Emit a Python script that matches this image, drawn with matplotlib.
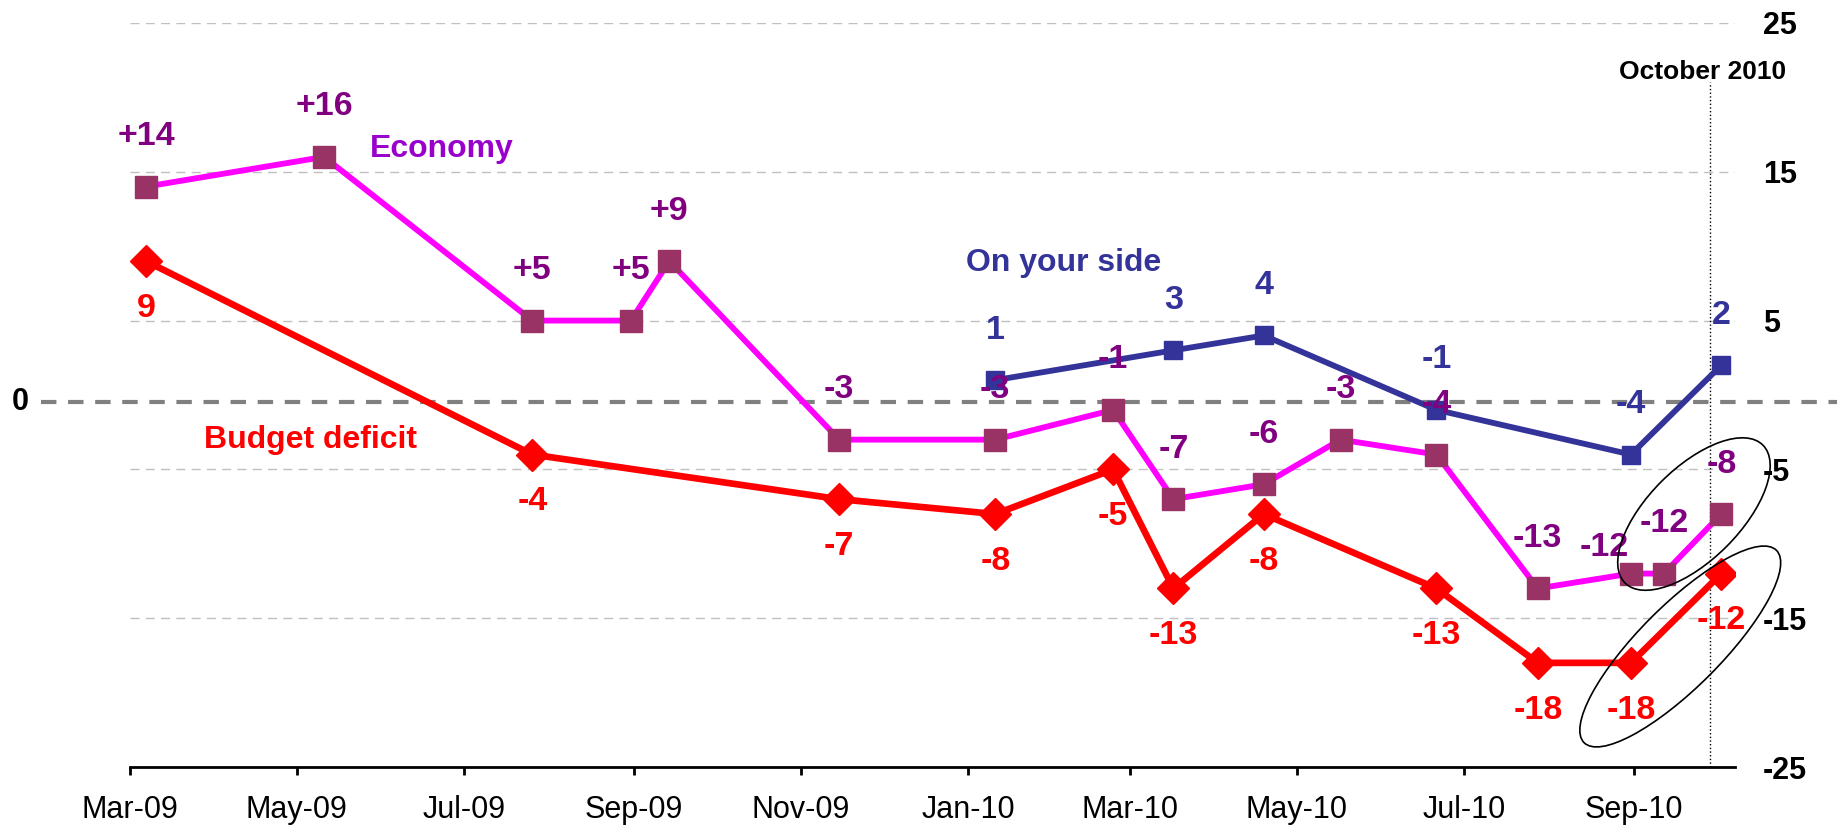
import matplotlib

matplotlib.use("Agg")
import matplotlib.dates as mdates
import matplotlib.pyplot as plt
import pandas as pd
from matplotlib import font_manager
from matplotlib.patches import Ellipse
from matplotlib.transforms import IdentityTransform, blended_transform_factory


# ---- data ----
economy_dates = [
    "2009-03-07", "2009-05-11", "2009-07-26", "2009-08-31", "2009-09-14",
    "2009-11-15", "2010-01-11", "2010-02-23", "2010-03-17", "2010-04-19",
    "2010-05-17", "2010-06-21", "2010-07-28", "2010-08-31", "2010-09-12",
    "2010-10-03",
]
economy_values = [14, 16, 5, 5, 9, -3, -3, -1, -7, -6, -3, -4, -13, -12, -12, -8]
economy_labels = ["+14", "+16", "+5", "+5", "+9", "-3", "-3", "-1", "-7", "-6",
                  "-3", "-4", "-13", "-12", "-12", "-8"]

budget_dates = [
    "2009-03-07", "2009-07-26", "2009-11-15", "2010-01-11", "2010-02-23",
    "2010-03-17", "2010-04-19", "2010-06-21", "2010-07-28", "2010-08-31",
    "2010-10-03",
]
budget_values = [9, -4, -7, -8, -5, -13, -8, -13, -18, -18, -12]
budget_labels = ["9", "-4", "-7", "-8", "-5", "-13", "-8", "-13", "-18", "-18", "-12"]

side_dates = ["2010-01-11", "2010-03-17", "2010-04-19", "2010-06-21",
              "2010-08-31", "2010-10-03"]
side_values = [1, 3, 4, -1, -4, 2]
side_labels = ["1", "3", "4", "-1", "-4", "2"]

y_ticks = [25, 15, 5, -5, -15, -25]
x_start, x_end = "2009-03-01", "2010-10-08"
marker_date = "2010-09-29"


def pick_font(candidates):
    available = {f.name for f in font_manager.fontManager.ttflist}
    for name in candidates:
        if name in available:
            return name
    return "DejaVu Sans"


FONT = pick_font(["Liberation Sans", "Arial", "DejaVu Sans"])
plt.rcParams["font.family"] = FONT
plt.rcParams["axes.unicode_minus"] = False

RED = "#FF0000"
MAGENTA = "#FF00FF"
PLUM = "#993366"
PURPLE = "#800080"
NAVY = "#333399"


def to_dates(values):
    return pd.to_datetime(values)


def label_points(ax, dates, values, labels, color, dy, nudges=None):
    nudges = nudges or {}
    for i, (d, v, text) in enumerate(zip(dates, values, labels)):
        offset = nudges.get(i, (0, dy))
        ax.annotate(text, (d, v), xytext=offset, textcoords="offset points",
                    ha="center", va="center", color=color, fontsize=24.5,
                    fontweight="bold", zorder=6)


def main():
    fig = plt.figure(figsize=(18.37, 8.26), dpi=100)
    ax = fig.add_axes([0.0705, 0.0714, 0.874, 0.9008])

    econ_x = to_dates(economy_dates)
    budget_x = to_dates(budget_dates)
    side_x = to_dates(side_dates)

    ax.plot(budget_x, budget_values, color=RED, lw=4.8, marker="D", ms=16,
            mfc=RED, mec=RED, zorder=4)
    ax.plot(econ_x, economy_values, color=MAGENTA, lw=4.2, marker="s", ms=16.5,
            mfc=PLUM, mec=PLUM, zorder=4)
    ax.plot(side_x, side_values, color=NAVY, lw=4.2, marker="s", ms=13,
            mfc=NAVY, mec=NAVY, zorder=5)

    label_points(ax, econ_x, economy_values, economy_labels, PURPLE, 36,
                 nudges={13: (-19, 19)})
    label_points(ax, budget_x, budget_values, budget_labels, RED, -34)
    label_points(ax, side_x, side_values, side_labels, NAVY, 36)

    ax.set_xlim(pd.Timestamp(x_start), pd.Timestamp(x_end))
    ax.set_ylim(-25, 25)

    # axes styling
    for side in ("left", "top", "right"):
        ax.spines[side].set_visible(False)
    ax.spines["bottom"].set_linewidth(2)
    ax.xaxis.set_major_locator(mdates.MonthLocator(bymonth=[1, 3, 5, 7, 9, 11]))
    ax.xaxis.set_major_formatter(mdates.DateFormatter("%b-%y"))
    ax.tick_params(axis="x", direction="out", length=6, width=2, pad=14,
                   labelsize=22)
    ax.yaxis.tick_right()
    ax.set_yticks(y_ticks)
    ax.tick_params(axis="y", length=0, pad=20, labelsize=22)
    for label in ax.get_yticklabels():
        label.set_fontweight("bold")
    ax.grid(axis="y", color="#C0C0C0", linestyle=(0, (6.5, 4.5)), linewidth=1)
    ax.set_axisbelow(True)

    # reference line marked "0" (drawn slightly below the data zero in the original)
    ax.axhline(-0.5, xmin=-0.055, xmax=1.07, color="#808080", lw=3,
               linestyle=(0, (3.7, 2.8)), clip_on=False, zorder=2)
    fig_x = blended_transform_factory(fig.transFigure, ax.transData)
    ax.text(20 / 1837, -0.5, "0", transform=fig_x, ha="center", va="center",
            fontsize=22, fontweight="bold")

    # latest poll marker
    ax.plot([pd.Timestamp(marker_date)] * 2, [-25, 21], color="black", lw=1,
            linestyle=":", zorder=3)
    ax.text(pd.Timestamp("2010-09-26"), 21.7, "October 2010", ha="center",
            va="center", fontsize=19, fontweight="bold")

    # series names
    ax.text(pd.Timestamp("2009-06-23"), 16.5, "Economy", color="#9900CC",
            fontsize=23, fontweight="bold", ha="center", va="center")
    ax.text(pd.Timestamp("2010-02-05"), 8.9, "On your side", color=NAVY,
            fontsize=23, fontweight="bold", ha="center", va="center")
    ax.text(pd.Timestamp("2009-05-06"), -3.0, "Budget deficit", color=RED,
            fontsize=23, fontweight="bold", ha="center", va="center")

    # highlight ellipses, sized in pixels around a data-space centre
    for center_date, center_val, w, h in [("2010-09-23", -8.0, 195, 92),
                                          ("2010-09-18", -16.9, 272, 82)]:
        cx, cy = ax.transData.transform((mdates.date2num(pd.Timestamp(center_date)),
                                         center_val))
        ax.add_patch(Ellipse((cx, cy), w, h, angle=45, transform=IdentityTransform(),
                             fill=False, ec="black", lw=1.2, clip_on=False, zorder=7))

    fig.savefig("out.png", dpi=100)
    plt.close(fig)


if __name__ == "__main__":
    main()
